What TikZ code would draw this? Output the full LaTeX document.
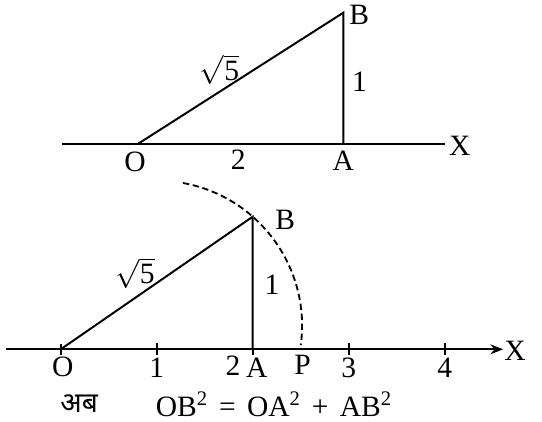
\documentclass[tikz,border=0pt]{standalone}
\usepackage{fontspec}
\setmainfont{Liberation Serif}
\newfontfamily\devfont[Script=Devanagari]{Noto Sans}
\usetikzlibrary{arrows.meta}

\begin{document}
\begin{tikzpicture}[line width=1.4pt,
    lbl/.style={inner sep=0pt, font=\fontsize{21}{25}\selectfont},
    arcline/.style={line width=1.3pt, dash pattern=on 4.5pt off 2.6pt}]
    \useasboundingbox (-1.5175,-1.7925) rectangle (12.0325,8.7325);

    % Upper triangle
    \coordinate (tL) at (0.03,5.125);
    \coordinate (tR) at (9.61,5.125);
    \coordinate (tO) at (1.915,5.125);
    \coordinate (tA) at (7.065,5.125);
    \coordinate (tB) at (7.065,8.415);
    \draw (tL) -- (tR);
    \draw (tO) -- (tB) -- (tA);

    \node[lbl] (tOl) at (1.86,4.68) {O};
    \node[lbl] (tOA) at (4.44,4.73) {2};
    \node[lbl] (tAl) at (7.065,4.71) {A};
    \node[lbl] (tXl) at (9.98,5.08) {X};
    \node[lbl] (tBl) at (7.46,8.36) {B};
    \node[lbl] (tAB) at (7.47,6.70) {1};
    \node[lbl] (tOB) at (3.97,6.99) {$\sqrt{\mbox{5}}$};

    % Lower number line
    \coordinate (L) at (-1.37,0);
    \coordinate (R) at (11.06,0);
    \coordinate (O) at (0,0);
    \coordinate (A) at (4.8,0);
    \coordinate (B) at (4.8,3.315);
    \draw[-{Stealth[length=9pt,width=7pt]}] (L) -- (R);
    \draw (O) ++(0,0.13) -- ++(0,-0.26);
    \draw (A) -- ++(0,-0.13);
    \foreach \k in {1,3,4} {
        \coordinate (t\k) at (2.4*\k,0);
        \draw (t\k) ++(0,0.15) -- ++(0,-0.3);
        \node[lbl] (n\k) at (2.4*\k,-0.46) {\k};
    }
    \draw (O) -- (B) -- (A);

    % Arc through B down to P
    \coordinate (S) at (3.0575,4.1575);
    \draw[arcline] (S) arc[start angle=79.7, end angle=-7.7, radius=3.625] coordinate (P);

    \node[lbl] (Ol) at (0.05,-0.44) {O};
    \node[lbl] (n2) at (4.31,-0.42) {2};
    \node[lbl] (Al) at (4.90,-0.47) {A};
    \node[lbl] (Pl) at (6.05,-0.40) {P};
    \node[lbl] (Xl) at (11.36,-0.04) {X};
    \node[lbl] (Bl) at (5.61,3.23) {B};
    \node[lbl] (AB) at (5.28,1.61) {1};
    \node[lbl] (OB) at (1.86,1.91) {$\sqrt{\mbox{5}}$};

    % Equation
    \node[lbl, font=\devfont\fontsize{20}{24}\selectfont] (ab) at (0.46,-1.37) {अब};
    \node[lbl] (eq) at (5.33,-1.38) {OB\textsuperscript{2}\hspace{0.38em}=\hspace{0.38em}OA\textsuperscript{2}\hspace{0.38em}+\hspace{0.38em}AB\textsuperscript{2}};
\end{tikzpicture}
\end{document}
